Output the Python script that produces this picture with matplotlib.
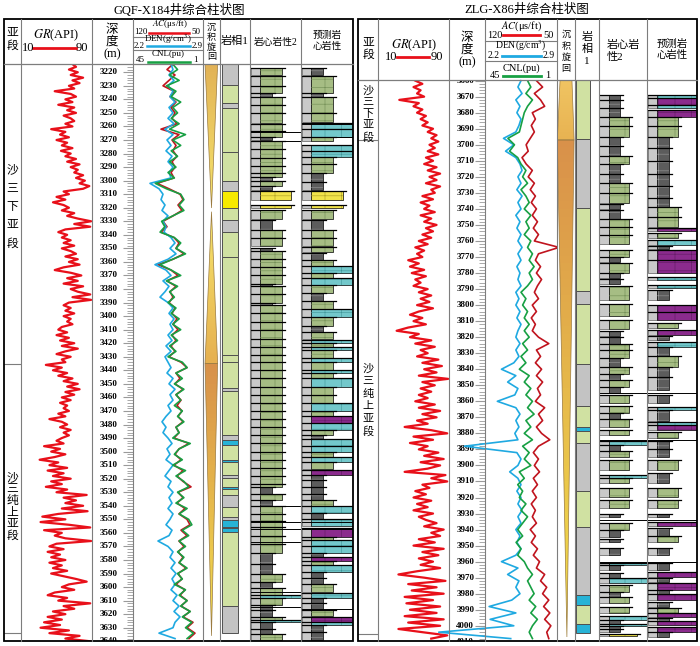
import numpy as np
import matplotlib
matplotlib.use('Agg')
import matplotlib.pyplot as plt
from matplotlib.patches import Polygon, Rectangle
from matplotlib.colors import LinearSegmentedColormap
from matplotlib.ticker import MultipleLocator

plt.rcParams['font.family'] = ['Liberation Serif', 'Noto Sans CJK SC']
plt.rcParams['mathtext.fontset'] = 'stix'
plt.rcParams['hatch.linewidth'] = 0.4

# ---------------- data: GQF-X184 (left well) ----------------
L_TOP, L_BOT = 3213.9, 3639.8
gr_left_start = 3214   # 2 m samples
gr_left = [68, 72, 64, 74, 66, 80, 68, 76, 64, 70,
           48, 66, 72, 60, 68, 52, 70, 62, 72, 58,
           66, 70, 60, 68, 44, 60, 54, 64, 50, 62,
           56, 68, 55, 66, 60, 72, 62, 76, 66, 74,
           70, 80, 72, 82, 76, 87, 80, 58, 64, 50,
           60, 46, 58, 64, 56, 70, 62, 74, 89, 70,
           88, 60, 52, 62, 56, 66, 58, 70, 56, 66,
           72, 60, 74, 64, 76, 58, 48, 66, 78, 62,
           74, 58, 80, 66, 74, 88, 68, 89, 64, 58,
           66, 60, 70, 58, 66, 62, 68, 56, 52, 62,
           50, 64, 54, 70, 56, 74, 60, 50, 66, 56,
           60, 38, 56, 46, 62, 52, 68, 58, 74, 62,
           76, 60, 70, 56, 66, 54, 62, 58, 64, 52,
           60, 42, 56, 62, 54, 66, 58, 64, 56, 50,
           58, 36, 54, 44, 60, 48, 31, 52, 42, 62,
           40, 58, 46, 66, 44, 56, 38, 62, 50, 84,
           58, 72, 60, 80, 56, 85, 52, 34, 60, 32,
           64, 88, 36, 56, 48, 60, 89, 50, 42, 58,
           40, 54, 44, 60, 42, 56, 46, 62, 44, 58,
           72, 84, 64, 56, 70, 48, 40, 62, 52, 88,
           58, 70, 46, 60, 40, 56, 36, 54, 32, 64,
           42, 76, 60, 88]
log_left_start = 3214  # 4 m samples
ac_left = [80, 86, 78, 84, 90, 79, 83, 77, 82, 78,
           81, 76, 92, 74, 81, 77, 80, 76, 81, 78,
           82, 79, 96, 84, 73, 70, 75, 71, 80, 90,
           86, 92, 79, 74, 77, 69, 80, 95, 82, 75,
           86, 77, 83, 80, 84, 78, 81, 76, 80, 75,
           81, 77, 82, 78, 84, 72, 66, 77, 73, 78,
           70, 77, 72, 76, 71, 75, 70, 77, 74, 79,
           64, 74, 78, 72, 79, 70, 76, 70, 62, 75,
           70, 76, 68, 74, 66, 63, 72, 66, 74, 69,
           75, 70, 74, 67, 75, 71, 77, 68, 73, 66,
           72, 63, 70, 60, 66, 58, 64]
den_left = [2.58, 2.60, 2.56, 2.61, 2.55, 2.60, 2.57, 2.62, 2.56, 2.60,
            2.55, 2.61, 2.52, 2.60, 2.54, 2.58, 2.53, 2.59, 2.55, 2.60,
            2.56, 2.58, 2.37, 2.46, 2.50, 2.48, 2.52, 2.49, 2.55, 2.50,
            2.53, 2.51, 2.58, 2.62, 2.57, 2.63, 2.55, 2.42, 2.53, 2.58,
            2.50, 2.56, 2.52, 2.47, 2.55, 2.60, 2.56, 2.61, 2.57, 2.60,
            2.55, 2.59, 2.53, 2.58, 2.52, 2.55, 2.58, 2.54, 2.60, 2.56,
            2.62, 2.57, 2.60, 2.55, 2.58, 2.53, 2.49, 2.53, 2.50, 2.55,
            2.59, 2.54, 2.57, 2.53, 2.60, 2.56, 2.52, 2.58, 2.55, 2.60,
            2.56, 2.59, 2.55, 2.60, 2.57, 2.53, 2.59, 2.56, 2.45, 2.55,
            2.60, 2.57, 2.62, 2.58, 2.63, 2.59, 2.62, 2.58, 2.64, 2.60,
            2.66, 2.61, 2.67, 2.62, 2.60, 2.46, 2.62]
cnl_left = [20, 17, 22, 16, 24, 18, 21, 15, 20, 17,
            21, 16, 22, 12, 20, 15, 21, 17, 22, 18,
            23, 19, 31, 24, 15, 13, 16, 13, 20, 27,
            25, 28, 19, 15, 18, 12, 20, 28, 21, 15,
            24, 17, 22, 19, 23, 18, 21, 16, 20, 15,
            21, 17, 22, 18, 23, 14, 11, 18, 14, 19,
            13, 18, 15, 19, 14, 17, 13, 18, 16, 20,
            9, 16, 19, 14, 20, 12, 18, 13, 10, 17,
            13, 18, 11, 16, 10, 8, 14, 10, 16, 12,
            17, 13, 16, 11, 17, 14, 19, 12, 16, 11,
            15, 9, 14, 8, 12, 7, 11]

# 岩相1: (top, bottom, code)  g=green s=gray y=yellow c=cyan
facies_left = [(3213.9, 3229.4, 's'), (3229.4, 3243, 'g'), (3243, 3246.5, 's'),
               (3246.5, 3278.6, 'g'), (3278.6, 3300, 'g'), (3300, 3308, 's'),
               (3308, 3320.4, 'y'), (3320.4, 3329, 'g'), (3329, 3337.7, 's'),
               (3337.7, 3356, 'g'), (3356, 3428.7, 'g'), (3428.7, 3433.6, 'g'),
               (3433.6, 3453, 'g'), (3453, 3455, 's'), (3455, 3487.8, 'g'),
               (3487.8, 3491.5, 's'), (3491.5, 3495, 'c'), (3495, 3506, 'g'),
               (3506, 3508, 'c'), (3508, 3517, 'g'), (3517, 3519.5, 's'),
               (3519.5, 3526, 'g'), (3526, 3527.6, 'c'), (3527.6, 3532, 'g'),
               (3532, 3540.6, 's'), (3540.6, 3548, 'g'), (3548, 3550.5, 's'),
               (3550.5, 3555.5, 'c'), (3555.5, 3556.5, 's'), (3556.5, 3559.5, 'c'),
               (3559.5, 3613.8, 'g'), (3613.8, 3634, 's')]

# 沉积旋回: (top, bottom, shape, colour top, colour bottom)
cycles_left = [(3213.9, 3320.2, 'fall', '#e2b257', '#f6e56b'),
               (3322.9, 3435, 'rise', '#f6e56b', '#e6b050'),
               (3435, 3636, 'fall', '#d8914a', '#f4e04e')]

# lithology beds: m=mudstone g=siltstone y=sandstone c=cyan p=purple
core_left = [(3217, 3222, 'g'), (3223, 3230, 'g'), (3230, 3235.5, 'g'), (3235.5, 3238, 'm'),
             (3238, 3244, 'g'), (3244, 3250, 'g'), (3250, 3257.5, 'g'), (3258, 3263, 'g'),
             (3263, 3268, 'g'), (3268, 3270, 'm'), (3271, 3277, 'g'), (3277, 3283, 'g'),
             (3283, 3289, 'g'), (3289, 3294.5, 'g'), (3294.5, 3297, 'g'), (3297, 3300, 'm'),
             (3300, 3304, 'g'), (3304, 3307, 'm'), (3308, 3314, 'y'), (3318, 3320.5, 'y'),
             (3321.5, 3328, 'g'), (3329, 3336.5, 'm'), (3336.5, 3342, 'g'), (3342, 3348.5, 'g'),
             (3350, 3352, 'm'), (3352, 3358, 'g'), (3358, 3364, 'g'), (3364, 3370, 'g'),
             (3370, 3376, 'g'), (3376, 3378, 'm'), (3378, 3384, 'g'), (3384, 3390, 'g'),
             (3390, 3392, 'm'), (3392, 3398, 'g'), (3398, 3404, 'g'), (3404, 3410, 'g'),
             (3410, 3417, 'g'), (3417, 3423, 'g'), (3423, 3429, 'g'), (3429, 3434, 'g'),
             (3434, 3440, 'g'), (3440, 3446, 'g'), (3446, 3452, 'g'), (3452, 3458, 'g'),
             (3458, 3464, 'g'), (3464, 3470, 'g'), (3470, 3476, 'g'), (3476, 3482, 'g'),
             (3482, 3488, 'g'), (3488, 3494, 'g'), (3494, 3500, 'g'), (3500, 3506, 'g'),
             (3506, 3512, 'g'), (3512, 3518, 'g'), (3518, 3524, 'g'), (3524, 3526, 'g'),
             (3526, 3531, 'm'), (3531, 3536, 'g'), (3536, 3540, 'm'), (3540, 3546, 'g'),
             (3546, 3551, 'g'), (3551, 3556, 'g'), (3556, 3562, 'g'), (3562, 3568, 'g'),
             (3568, 3575, 'g'), (3575, 3583, 'm'), (3583, 3590, 'm'), (3590, 3596, 'g'),
             (3596, 3601, 'm'), (3601, 3606, 'g'), (3606, 3608, 'c'), (3608, 3613, 'g'),
             (3613, 3617, 'm'), (3617, 3622, 'm'), (3622, 3624, 'g'), (3624, 3626, 'c'),
             (3626, 3631, 'm'), (3631, 3635, 'm'), (3635, 3639, 'g')]
pred_left = [(3217, 3222, 'm'), (3223, 3235, 'g'), (3235.5, 3238, 'm'), (3238, 3250, 'g'),
             (3250, 3257, 'g'), (3257.7, 3262, 'c'), (3262, 3267.5, 'c'), (3268, 3271, 'g'),
             (3273.6, 3278, 'c'), (3278, 3282.3, 'c'), (3282.3, 3288, 'g'), (3288, 3294.6, 'g'),
             (3294.6, 3301, 'm'), (3301, 3307, 'm'), (3308, 3314, 'y'), (3318, 3320.5, 'y'),
             (3321.5, 3328, 'g'), (3329, 3336.5, 'm'), (3336.5, 3342, 'g'), (3342, 3348.5, 'g'),
             (3349, 3353, 'g'), (3353.6, 3358.5, 'm'), (3358.5, 3363, 'g'), (3363, 3368, 'c'),
             (3368, 3372, 'g'), (3372, 3377, 'c'), (3377, 3383, 'g'), (3383, 3389, 'm'),
             (3389, 3395, 'g'), (3395, 3401, 'c'), (3401, 3407, 'g'), (3407, 3412, 'm'),
             (3412, 3417, 'g'), (3417.6, 3420, 'c'), (3420, 3422.5, 'g'), (3422.5, 3425, 'c'),
             (3425, 3431, 'g'), (3431, 3434, 'c'), (3434, 3440, 'g'), (3440, 3442, 'c'),
             (3442, 3446, 'g'), (3446, 3452, 'c'), (3452, 3458, 'g'), (3458, 3464, 'g'),
             (3464, 3470, 'c'), (3470, 3474, 'g'), (3474, 3479, 'p'), (3479, 3484, 'c'),
             (3484, 3488, 'g'), (3488, 3491, 'm'), (3491, 3496, 'c'), (3496, 3500, 'c'),
             (3500, 3504, 'g'), (3504, 3508, 'c'), (3508, 3513, 'g'), (3513.5, 3517, 'p'),
             (3517, 3521, 'm'), (3521, 3526, 'm'), (3526, 3531, 'm'), (3531, 3536, 'm'),
             (3536, 3540, 'g'), (3540, 3545, 'c'), (3545, 3550, 'm'), (3550, 3555, 'c'),
             (3556.6, 3562.8, 'p'), (3563, 3565, 'g'), (3565, 3570, 'c'), (3570, 3575, 'c'),
             (3575, 3577.5, 'm'), (3577.5, 3581, 'p'), (3581, 3584, 'g'), (3584, 3589, 'c'),
             (3589, 3593, 'm'), (3593, 3598, 'm'), (3598, 3604, 'g'), (3604.6, 3608, 'c'),
             (3608, 3612, 'm'), (3612, 3617, 'm'), (3617, 3621, 'g'), (3621.8, 3625.5, 'p'),
             (3625.5, 3628, 'c'), (3628, 3633, 'm'), (3633, 3639, 'm')]
core_lines_left = [3264, 3270.5, 3540.5, 3552, 3557, 3567, 3604, 3615]
pred_lines_left = [3258, 3268, 3552, 3557, 3616]

# ---------------- data: ZLG-X86 (right well) ----------------
R_TOP, R_BOT = 3659.6, 4009.5
gr_right_start = 3660
gr_right = [52, 60, 50, 58, 54, 62, 34, 56, 50, 60,
            54, 64, 58, 66, 60, 72, 66, 76, 70, 78,
            68, 74, 66, 78, 64, 72, 62, 76, 66, 80,
            68, 76, 64, 80, 70, 74, 60, 72, 58, 68,
            62, 74, 58, 70, 62, 76, 64, 72, 60, 70,
            56, 66, 52, 62, 54, 60, 44, 56, 46, 62,
            48, 64, 52, 58, 50, 66, 56, 70, 58, 68,
            54, 72, 56, 46, 60, 50, 64, 44, 31, 56,
            46, 70, 52, 74, 58, 66, 54, 78, 60, 82,
            62, 76, 56, 89, 60, 74, 58, 70, 56, 66,
            52, 74, 56, 80, 60, 76, 54, 66, 40, 70,
            88, 50, 72, 46, 66, 56, 78, 62, 84, 58,
            80, 66, 40, 86, 70, 88, 60, 68, 52, 64,
            50, 70, 54, 66, 50, 72, 56, 64, 76, 62,
            84, 70, 80, 56, 74, 50, 84, 60, 78, 56,
            72, 58, 80, 54, 33, 62, 86, 44, 76, 48,
            84, 40, 72, 42, 80, 46, 76, 40, 84, 44,
            80, 33, 60, 88, 70]
log_right_start = 3660
ac_right = [70, 64, 72, 66, 62, 74, 71, 75, 72, 76,
            80, 78, 84, 80, 74, 78, 72, 76, 71, 75,
            70, 74, 69, 73, 68, 72, 48, 68, 71, 66,
            70, 65, 69, 72, 68, 74, 70, 75, 71, 74,
            68, 58, 70, 66, 71, 65, 70, 64, 69, 66,
            71, 62, 68, 64, 70, 65, 57, 68, 73, 68,
            72, 67, 73, 69, 74, 70, 75, 71, 74, 70,
            76, 71, 75, 69, 73, 67, 70, 62, 66, 60,
            64, 58, 63, 57, 62, 56, 60, 58]
den_right = [2.55, 2.52, 2.56, 2.50, 2.54, 2.51, 2.55, 2.53, 2.50, 2.38,
             2.48, 2.40, 2.50, 2.54, 2.56, 2.52, 2.55, 2.51, 2.56, 2.52,
             2.55, 2.50, 2.54, 2.51, 2.55, 2.52, 2.56, 2.52, 2.55, 2.51,
             2.54, 2.52, 2.55, 2.50, 2.53, 2.50, 2.54, 2.51, 2.55, 2.52,
             2.50, 2.54, 2.50, 2.53, 2.48, 2.36, 2.50, 2.42, 2.52, 2.49,
             2.32, 2.50, 2.54, 2.50, 2.53, 2.49, 2.52, 2.00, 2.51, 2.55,
             2.52, 2.44, 2.52, 2.55, 2.51, 2.55, 2.52, 2.56, 2.52, 2.55,
             2.50, 2.54, 2.51, 2.55, 2.50, 2.36, 2.52, 2.42, 2.53, 2.50,
             2.54, 2.46, 2.24, 2.50, 2.25, 2.48, 1.75, 2.45]
cnl_right = [19, 17, 20, 16, 19, 21, 22, 23, 24, 31,
             27, 30, 25, 23, 20, 22, 19, 23, 20, 18,
             21, 17, 20, 18, 21, 17, 19, 16, 18, 15,
             18, 16, 19, 23, 20, 22, 19, 21, 18, 21,
             18, 22, 19, 23, 20, 24, 18, 21, 17, 20,
             16, 19, 15, 20, 17, 21, 16, 22, 18, 21,
             17, 24, 21, 25, 22, 24, 20, 23, 19, 22,
             25, 22, 26, 23, 25, 21, 19, 16, 19, 17,
             15, 18, 14, 17, 13, 16, 18, 16]

facies_right = [(3659.6, 3696.6, 'g'), (3696.6, 3739.6, 's'), (3739.6, 3791.2, 'g'),
                (3791.2, 3799.5, 's'), (3799.5, 3836.7, 'g'), (3836.7, 3863, 's'),
                (3863, 3875.9, 'g'), (3875.9, 3878.4, 'c'), (3878.4, 3886.2, 'g'),
                (3886.2, 3915.8, 's'), (3915.8, 3938.2, 'g'), (3938.2, 3980.9, 's'),
                (3980.9, 3987, 'c'), (3987, 3999, 'g'), (3999, 4004.8, 'c')]
cycles_right = [(3659.6, 3697, 'trap', '#f0c462', '#e8b352'),
                (3697, 4007, 'fall', '#d9914a', '#f3e04a')]
core_right = [(3669, 3672, 'm'), (3672, 3677, 'm'), (3677, 3682.4, 'm'), (3682.4, 3688, 'g'),
              (3688, 3695, 'g'), (3695, 3701, 'm'), (3701, 3707, 'm'), (3707, 3712, 'g'),
              (3712, 3718, 'm'), (3718, 3724, 'm'), (3724, 3730, 'g'), (3730, 3736.5, 'g'),
              (3737, 3740, 'm'), (3740.6, 3746, 'm'), (3746, 3751, 'g'), (3751, 3756, 'g'),
              (3756, 3762, 'g'), (3765.6, 3769.7, 'g'), (3770, 3773, 'm'), (3774, 3780, 'g'),
              (3780, 3783, 'm'), (3784, 3787, 'm'), (3788, 3796.8, 'g'), (3799, 3807, 'g'),
              (3809, 3815, 'g'), (3816, 3819, 'm'), (3820, 3824, 'm'), (3824, 3828, 'g'),
              (3828, 3833, 'g'), (3833, 3838.4, 'm'), (3838.4, 3843, 'g'), (3843, 3847, 'm'),
              (3847, 3851, 'g'), (3851, 3855, 'm'), (3856, 3861, 'g'), (3863, 3867, 'g'),
              (3867, 3871, 'm'), (3871, 3876, 'g'), (3878, 3881, 'g'), (3885, 3887, 'c'),
              (3887, 3891, 'm'), (3891, 3894.5, 'g'), (3896.6, 3903, 'g'), (3906, 3908, 'c'),
              (3908, 3911, 'g'), (3914, 3919.5, 'g'), (3921.6, 3926.8, 'g'), (3930, 3932, 'm'),
              (3936, 3940, 'g'), (3940, 3944.4, 'm'), (3946, 3948, 'm'), (3951.7, 3956, 'm'),
              (3961, 3962, 'c'), (3962, 3965, 'm'), (3967, 3970, 'm'), (3970, 3973.6, 'c'),
              (3974.6, 3979, 'g'), (3979, 3982, 'm'), (3982, 3986, 'g'), (3988, 3992, 'g'),
              (3994, 3996.4, 'c'), (3996.4, 3999, 'm'), (3999, 4000, 'c'), (4000, 4002, 'm'),
              (4002, 4004, 'm'), (4005, 4006.5, 'y')]
pred_right = [(3669, 3671, 'c'), (3671, 3675, 'p'), (3675, 3677.2, 'c'), (3678, 3682.4, 'p'),
              (3682.4, 3688, 'g'), (3688, 3695, 'g'), (3695, 3702, 'm'), (3702, 3710, 'm'),
              (3710, 3718, 'm'), (3718, 3726, 'm'), (3726, 3733, 'm'), (3733, 3738.6, 'm'),
              (3738.6, 3745, 'g'), (3745, 3751, 'g'), (3752, 3754, 'p'), (3755, 3758, 'g'),
              (3759.4, 3762.5, 'c'), (3763, 3765, 'm'), (3765.6, 3772, 'p'), (3772, 3780.1, 'p'),
              (3782.2, 3784.3, 'c'), (3787.4, 3789.5, 'c'), (3790.5, 3796.8, 'm'), (3800, 3804, 'p'),
              (3804, 3809.3, 'p'), (3811.4, 3814.5, 'g'), (3815.5, 3818.6, 'p'), (3819, 3822, 'm'),
              (3822.8, 3825.9, 'c'), (3826, 3832, 'm'), (3832, 3838.4, 'g'), (3838.4, 3845, 'm'),
              (3845, 3853, 'm'), (3856, 3861, 'm'), (3863.3, 3865.4, 'c'), (3865.4, 3872, 'm'),
              (3872.7, 3874.8, 'c'), (3874.8, 3878, 'p'), (3879, 3883, 'g'), (3885, 3890, 'm'),
              (3890, 3894.5, 'm'), (3896.6, 3903, 'g'), (3905, 3911, 'm'), (3914, 3919.5, 'g'),
              (3921.6, 3926.8, 'g'), (3930, 3932, 'm'), (3935, 3938, 'p'), (3939, 3944, 'm'),
              (3944, 3948, 'g'), (3951.7, 3956, 'm'), (3961, 3965, 'm'), (3966.3, 3969.4, 'p'),
              (3970, 3973, 'm'), (3973.6, 3977.7, 'p'), (3978, 3980, 'm'), (3980, 3984, 'p'),
              (3985, 3988, 'm'), (3989, 3992, 'g'), (3992, 3994.4, 'p'), (3995, 3997, 'm'),
              (3997, 3999.5, 'p'), (4000.6, 4003.7, 'p'), (4004, 4007, 'm')]
lines_right = [3855, 3884, 3934, 3960]

# ---------------- styles ----------------
LITH_COLORS = {'g': '#a6bd84', 'm': '#5c5c5c', 'y': '#f1e34a', 'c': '#73c8cb', 'p': '#8b2b8d'}
LITH_HATCH = {'g': '#6e8a52', 'm': '#9a9a9a', 'y': '#a89a20', 'c': '#3f9598', 'p': '#5e1a60'}
LITH_WIDTH = {'g': 0.62, 'm': 0.43, 'y': 0.8, 'c': 1.0, 'p': 1.0}
FAC_COLORS = {'g': '#d0e1a2', 's': '#c3c3c3', 'y': '#f7ea00', 'c': '#27b3d6'}
RED, DRED, BLUE, GREEN = '#e8101a', '#c0141e', '#1fa9e1', '#17a043'
GRID = '#7d7d7d'

W, H = 700, 646
BOTTOM = 641
fig = plt.figure(figsize=(W / 100, H / 100), dpi=100)


def add_ax(x0, x1, y0, y1):
    ax = fig.add_axes([x0 / W, 1 - y1 / H, (x1 - x0) / W, (y1 - y0) / H])
    ax.patch.set_visible(False)
    return ax


def depth_ax(x0, x1, y0, top, bot, xlim=(0, 1)):
    ax = add_ax(x0, x1, y0, BOTTOM)
    ax.set_xlim(*xlim)
    ax.set_ylim(bot, top)
    ax.axis('off')
    return ax


def draw_beds(ax, beds, lab=0.2):
    for top, bot, code in beds:
        w = LITH_WIDTH[code]
        ax.add_patch(Rectangle((0.01, top), lab - 0.01, bot - top, fc='#c9c9c9',
                               ec='#3a3a3a', lw=0.4))
        ax.add_patch(Rectangle((lab, top), w - lab, bot - top,
                               fc=LITH_COLORS[code], ec='black', lw=0.5))
        # lithology pattern
        ax.add_patch(Rectangle((lab, top), w - lab, bot - top, fc='none',
                               ec=LITH_HATCH[code], lw=0, hatch='--|'))
        ax.plot([0.0, min(w + 0.06, 1.0)], [top, top], color='black', lw=0.9)


def draw_cycles(ax, cycles, wide, apex, top, bot):
    for ctop, cbot, shape, c1, c2 in cycles:
        if shape == 'fall':
            verts = [(wide[0], ctop), (wide[1], ctop), (apex, cbot)]
        elif shape == 'rise':
            verts = [(apex, ctop), (wide[1], cbot), (wide[0], cbot)]
        else:
            verts = [(0.17, ctop), (0.83, ctop), (wide[1], cbot), (wide[0], cbot)]
        poly = Polygon(verts, closed=True, fc='none', ec='#9a7a40', lw=0.5, zorder=3)
        ax.add_patch(poly)
        cmap = LinearSegmentedColormap.from_list('cyc', [c1, c2])
        grad = np.linspace(0, 1, 64).reshape(-1, 1)
        im = ax.imshow(grad, cmap=cmap, extent=(0, 1, cbot, ctop), aspect='auto',
                       origin='upper', zorder=2)
        im.set_clip_path(poly)
    ax.set_xlim(0, 1)
    ax.set_ylim(bot, top)


def draw_well(cols, y0, top, bot, gr_start, gr, log_start, ac, den, cnl,
              facies, fac_x, cycles, wide, apex, core, pred, core_lines, pred_lines,
              lab_frac, den_clip):
    # GR
    ax = depth_ax(cols[1], cols[2], y0, top, bot, (10, 90))
    gr_depth = np.arange(gr_start, gr_start + 2 * len(gr), 2)
    ax.plot(gr, gr_depth, color=RED, lw=1.6)

    # depth track
    ax = add_ax(cols[2], cols[3], y0, BOTTOM)
    ax.set_xlim(0, 1)
    ax.set_ylim(bot, top)
    for s in ax.spines.values():
        s.set_visible(False)
    ax.set_xticks([])
    ax.yaxis.set_major_locator(MultipleLocator(10))
    ax.yaxis.set_minor_locator(MultipleLocator(2))
    ax.tick_params(axis='y', which='both', direction='in', left=False, right=True,
                   labelleft=False, labelright=False, color='#9a9a9a')
    ax.tick_params(axis='y', which='major', length=7, width=0.8)
    ax.tick_params(axis='y', which='minor', length=4, width=0.6)
    for d in np.arange(np.ceil(top / 10) * 10, bot + 10, 10):
        ax.text(lab_frac, d, f'{d:.0f}', ha='right', va='center', fontsize=6.5,
                fontweight='bold', clip_on=True)

    # AC / DEN / CNL
    log_depth = np.arange(log_start, log_start + 4 * len(ac), 4)
    ax = depth_ax(cols[3], cols[4], y0, top, bot, (120, 50))
    ax.plot(ac, log_depth, color=DRED, lw=1.2)
    ax = depth_ax(cols[3], cols[4], y0, top, bot, (2.2, 2.9))
    ax.plot(den, log_depth, color=BLUE, lw=1.2, clip_on=not den_clip)
    ax = depth_ax(cols[3], cols[4], y0, top, bot, (45, 1))
    ax.plot(cnl, log_depth, color=GREEN, lw=1.2)

    # cycles
    ax = depth_ax(cols[4], cols[5], y0, top, bot)
    draw_cycles(ax, cycles, wide, apex, top, bot)

    # facies
    ax = depth_ax(cols[5], cols[6], y0, top, bot)
    for ftop, fbot, code in facies:
        ax.add_patch(Rectangle((fac_x[0], ftop), fac_x[1] - fac_x[0], fbot - ftop,
                               fc=FAC_COLORS[code], ec='#505050', lw=0.7))

    # core / predicted lithology
    ax = depth_ax(cols[6], cols[7], y0, top, bot)
    draw_beds(ax, core)
    for d in core_lines:
        ax.axhline(d, color='black', lw=0.7)
    ax = depth_ax(cols[7], cols[8], y0, top, bot)
    draw_beds(ax, pred)
    for d in pred_lines:
        ax.axhline(d, color='black', lw=0.7)


LCOLS = [4, 21, 92, 133, 203, 220, 250, 301, 353]
RCOLS = [358, 378, 449, 485, 557, 575, 599, 647, 697]
L_HEAD, R_HEAD = 64, 80

draw_well(LCOLS, L_HEAD, L_TOP, L_BOT, gr_left_start, gr_left, log_left_start,
          ac_left, den_left, cnl_left, facies_left, (0.07, 0.6), cycles_left,
          (0.12, 0.86), 0.5, core_left, pred_left, core_lines_left, pred_lines_left,
          0.62, False)
draw_well(RCOLS, R_HEAD, R_TOP, R_BOT, gr_right_start, gr_right, log_right_start,
          ac_right, den_right, cnl_right, facies_right, (0.04, 0.63), cycles_right,
          (0.02, 0.95), 0.55, core_right, pred_right, lines_right, lines_right,
          0.7, True)

# sub-stage boundaries inside the 亚段 column
for cols, y0, top, bot, deps in [(LCOLS, L_HEAD, L_TOP, L_BOT, [3435, 3634]),
                                 (RCOLS, R_HEAD, R_TOP, R_BOT, [3697, 4005])]:
    ax = depth_ax(cols[0], cols[1], y0, top, bot)
    for d in deps:
        ax.axhline(d, color=GRID, lw=0.8)

# ---------------- frame, header, titles ----------------
fr = fig.add_axes([0, 0, 1, 1], zorder=10)
fr.patch.set_visible(False)
fr.set_xlim(0, W)
fr.set_ylim(H, 0)
fr.axis('off')


def txt(x, y, s, size=9, **kw):
    fr.text(x, y, s, ha=kw.pop('ha', 'center'), va='center', fontsize=size, **kw)


def vtxt(x, ys, chars, size):
    for y, ch in zip(ys, chars):
        txt(x, y, ch, size)


for cols, yh in [(LCOLS, L_HEAD), (RCOLS, R_HEAD)]:
    x0, x1 = cols[0], cols[-1]
    for x in cols[1:-1]:
        fr.plot([x, x], [19, BOTTOM], color=GRID, lw=0.8)
    fr.plot([x0, x1], [yh, yh], color=GRID, lw=0.9)
    fr.add_patch(Rectangle((x0, 19), x1 - x0, BOTTOM - 19, fc='none', ec='black', lw=1.3))

txt(179, 10, 'GQF-X184井综合柱状图', 9)
txt(527, 10, 'ZLG-X86井综合柱状图', 9)

# left header
vtxt(12.5, [33, 46], '亚段', 8.5)
txt(56, 35, r'$\mathit{GR}$(API)', 9)
txt(28, 48, '10', 9)
txt(82, 48, '90', 9)
fr.plot([33, 76], [48, 48], color=RED, lw=2)
vtxt(112, [30, 42], '深度', 9)
txt(112, 54, '(m)', 9)
txt(170, 23.5, r'$\mathit{AC}$(μs/ft)', 6.5)
txt(141, 31.5, '120', 6.5)
txt(196, 31.5, '50', 6.5)
fr.plot([149, 189], [32.5, 32.5], color=RED, lw=1.8)
fr.plot([133, 203], [36.5, 36.5], color=GRID, lw=0.8)
txt(168, 39.5, r'DEN(g/cm$^3$)', 6.5)
txt(139.5, 45.5, '2.2', 6.5)
txt(197.5, 45.5, '2.9', 6.5)
fr.plot([147, 190], [46, 46], color=BLUE, lw=1.8)
fr.plot([133, 203], [49.5, 49.5], color=GRID, lw=0.8)
txt(168, 54.5, 'CNL(pu)', 6.5)
txt(140, 60.5, '45', 6.5)
txt(195, 60.5, '1', 6.5)
fr.plot([148, 190], [61.5, 61.5], color=GREEN, lw=1.8)
vtxt(211.5, [28, 38, 48, 57], '沉积旋回', 6.5)
txt(235, 41, '岩相1', 8)
txt(275.5, 42, '岩心岩性2', 7)
txt(327, 35, '预测岩', 7)
txt(327, 47, '心岩性', 7)
vtxt(12.5, [170, 188.5, 207, 225.5, 244], '沙三下亚段', 8.5)
vtxt(12.5, [478, 489.5, 501, 512.5, 524, 535.5], '沙三纯上亚段', 8.5)

# right header
vtxt(368, [43, 55], '亚段', 8.5)
txt(414, 45, r'$\mathit{GR}$(API)', 9)
txt(391, 57, '10', 9)
txt(437, 57, '90', 9)
fr.plot([397, 429], [57, 57], color=RED, lw=2)
vtxt(467, [38, 50], '深度', 9)
txt(467, 62, '(m)', 9)
txt(521, 26, r'$\mathit{AC}$(μs/ft)', 7.5)
txt(495, 35, '120', 7.5)
txt(549, 35, '50', 7.5)
fr.plot([503, 540], [35, 35], color=RED, lw=2)
fr.plot([485, 557], [41, 41], color=GRID, lw=0.8)
txt(521, 45.5, r'DEN(g/cm$^3$)', 7)
txt(494, 56, '2.2', 7)
txt(549, 56, '2.9', 7)
fr.plot([502, 541], [56, 56], color=BLUE, lw=2)
fr.plot([485, 557], [61, 61], color=GRID, lw=0.8)
txt(521, 68, 'CNL(pu)', 7.5)
txt(495, 76, '45', 7.5)
txt(548, 76, '1', 7.5)
fr.plot([503, 541], [76, 76], color=GREEN, lw=2)
vtxt(566, [35, 47, 58, 69], '沉积旋回', 6.5)
vtxt(587, [37, 49, 61], '岩相1', 8)
txt(607, 45, '岩心岩', 8, ha='left')
txt(607, 57, '性2', 8, ha='left')
txt(672, 44, '预测岩', 7.5)
txt(672, 55, '心岩性', 7.5)
vtxt(368, [91, 102.5, 114, 125.5, 137], '沙三下亚段', 8)
vtxt(368, [369, 381.5, 394, 406.5, 419, 431.5], '沙三纯上亚段', 8)

fig.savefig('out.png', dpi=100)
